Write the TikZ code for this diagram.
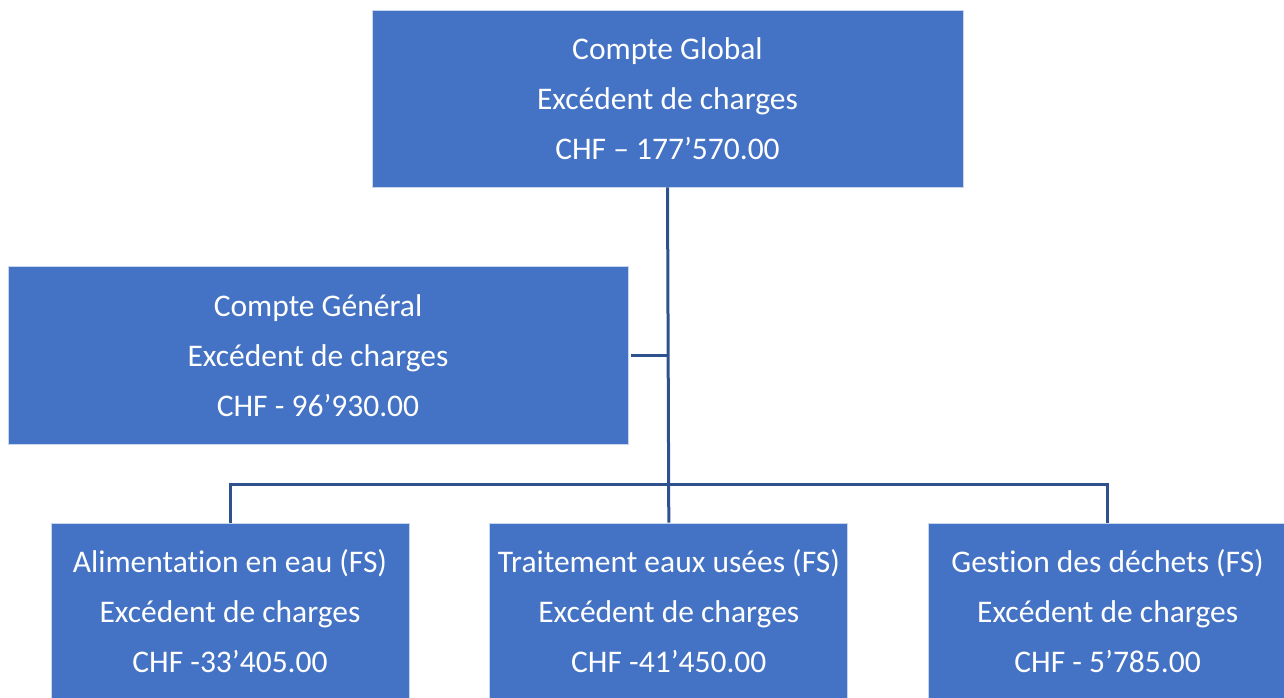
\documentclass[tikz,border=0pt]{standalone}
\usepackage{fontspec}
\setmainfont[Ligatures=NoCommon]{Carlito}
\usepackage{tikz}
\usetikzlibrary{positioning}
\definecolor{acfill}{RGB}{68,114,196}
\definecolor{aclink}{RGB}{47,82,143}
\tikzstyle{account} = [rectangle, fill=acfill, draw=white!70!acfill, line width=0.8pt, text=white, align=center, inner sep=0pt, font=\fontsize{31.5}{50}\selectfont]
\tikzstyle{link} = [line width=3pt, color=aclink]

\begin{document}
\begin{tikzpicture}[x=1pt, y=-1pt, node distance=80pt]
\useasboundingbox (0,0) rectangle (1284,698);
% Account nodes
\node (glob) [account, minimum width=591pt, minimum height=177pt] at (667.5,98.5) {Compte Global\\Excédent de charges\\CHF – 177’570.00};
\node (gen) [account, minimum width=620pt, minimum height=178pt] at (318,355.5) {Compte Général\\Excédent de charges\\CHF - 96’930.00};
\node (eau) [account, minimum width=358pt, minimum height=176pt] at (230,611) {Alimentation en eau (FS)\\Excédent de charges\\CHF -33’405.00};
\node (use) [account, minimum width=358pt, minimum height=176pt, right=of eau] {Traitement eaux usées (FS)\\Excédent de charges\\CHF -41’450.00};
\node (dech) [account, minimum width=358pt, minimum height=176pt, right=of use] {Gestion des déchets (FS)\\Excédent de charges\\CHF - 5’785.00};

% Connectors
\coordinate (bus) at (668,484);
\draw[link] (glob.south) -- (use.north);
\draw[link] ([xshift=3pt]gen.east) -- (gen.east -| glob.south);
\draw[link] (eau.north) |- (bus) -| (dech.north);
\end{tikzpicture}
\end{document}
